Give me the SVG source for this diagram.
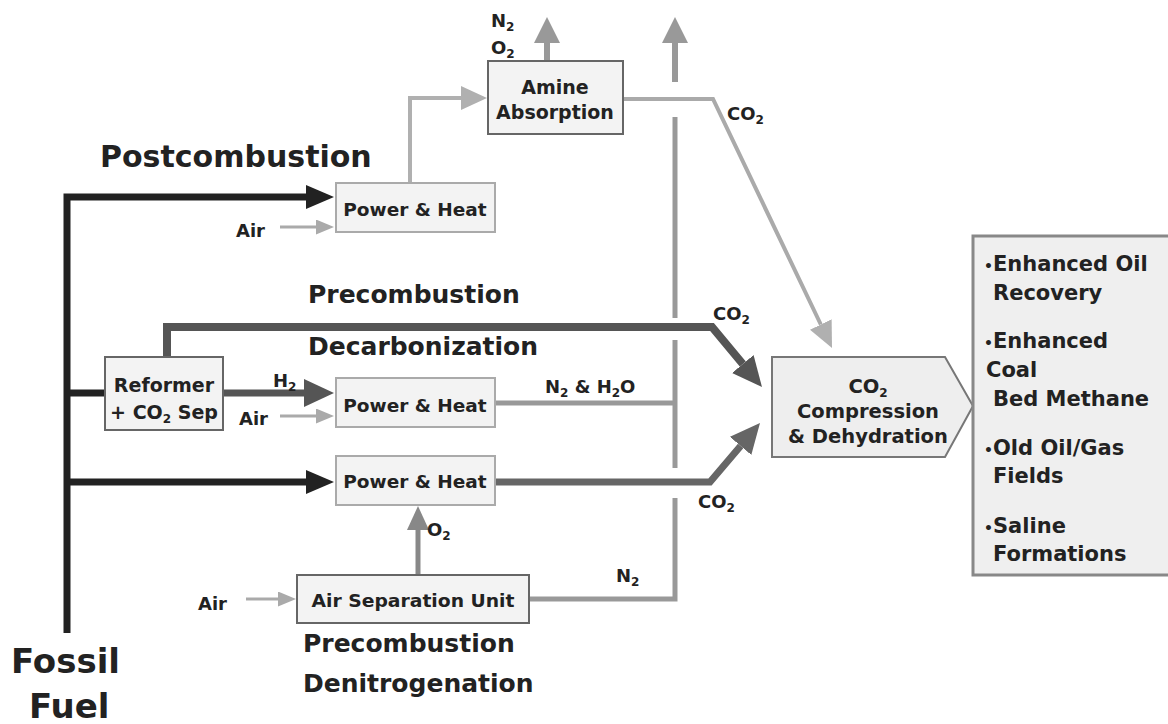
<svg xmlns="http://www.w3.org/2000/svg" width="1168" height="724" viewBox="0 0 1168 724">
<style>
text{font-family:"DejaVu Sans","Liberation Sans",Arial,sans-serif;font-weight:bold;fill:#222}
.title{font-size:25px}
.big{font-size:30px}
.ff{font-size:34px}
.lbl{font-size:18px}
.box{font-size:18.5px;text-anchor:middle}
.sub{font-size:12px}
.ph{fill:#f3f3f3;stroke:#aaa;stroke-width:2}
.dk{fill:#f3f3f3;stroke:#666;stroke-width:2}
.ln{fill:none;stroke-linejoin:miter}
</style>
<defs>
<marker id="mDark" markerUnits="userSpaceOnUse" markerWidth="28" markerHeight="24" refX="0" refY="12" orient="auto"><path d="M0,0 L28,12 L0,24 Z" fill="#222"/></marker>
<marker id="mMid" markerUnits="userSpaceOnUse" markerWidth="30" markerHeight="28" refX="0" refY="14" orient="auto"><path d="M0,0 L30,14 L0,28 Z" fill="#555"/></marker>
<marker id="mMid2" markerUnits="userSpaceOnUse" markerWidth="30" markerHeight="28" refX="0" refY="14" orient="auto"><path d="M0,0 L30,14 L0,28 Z" fill="#666"/></marker>
<marker id="mAir" markerUnits="userSpaceOnUse" markerWidth="18" markerHeight="15" refX="0" refY="7.5" orient="auto"><path d="M0,0 L18,7.5 L0,15 Z" fill="#aaa"/></marker>
<marker id="mLight" markerUnits="userSpaceOnUse" markerWidth="26" markerHeight="24" refX="0" refY="12" orient="auto"><path d="M0,0 L26,12 L0,24 Z" fill="#b0b0b0"/></marker>
<marker id="mGray" markerUnits="userSpaceOnUse" markerWidth="26" markerHeight="26" refX="0" refY="13" orient="auto"><path d="M0,0 L26,13 L0,26 Z" fill="#999"/></marker>
<marker id="mO2" markerUnits="userSpaceOnUse" markerWidth="24" markerHeight="22" refX="0" refY="11" orient="auto"><path d="M0,0 L24,11 L0,22 Z" fill="#888"/></marker>
</defs>

<g id="connectors">
<path class="ln" d="M67,633 V197 H306" stroke="#222" stroke-width="7" marker-end="url(#mDark)"/>
<path class="ln" d="M67,393 H105" stroke="#222" stroke-width="7"/>
<path class="ln" d="M67,482 H306" stroke="#222" stroke-width="7" marker-end="url(#mDark)"/>
<path class="ln" d="M280,227 H316" stroke="#aaa" stroke-width="3" marker-end="url(#mAir)"/>
<path class="ln" d="M280,416 H316" stroke="#aaa" stroke-width="3" marker-end="url(#mAir)"/>
<path class="ln" d="M246,599 H278" stroke="#aaa" stroke-width="3" marker-end="url(#mAir)"/>
<path class="ln" d="M410,183 V98 H461" stroke="#b0b0b0" stroke-width="4" marker-end="url(#mLight)"/>
<path class="ln" d="M547,61 V43" stroke="#999" stroke-width="6" marker-end="url(#mGray)"/>
<path class="ln" d="M623,99 H713 L820.8,324.5" stroke="#aaa" stroke-width="4" marker-end="url(#mLight)"/>
<path class="ln" d="M529,599 H675 V498" stroke="#999" stroke-width="5"/>
<path class="ln" d="M675,468 V340" stroke="#999" stroke-width="5"/>
<path class="ln" d="M675,318 V117" stroke="#999" stroke-width="5"/>
<path class="ln" d="M675,82 V43" stroke="#999" stroke-width="6" marker-end="url(#mGray)"/>
<path class="ln" d="M495,403 H675" stroke="#999" stroke-width="5"/>
<path class="ln" d="M167,357 V327 H712 L742.8,364" stroke="#555" stroke-width="8" marker-end="url(#mMid)"/>
<path class="ln" d="M223,393 H304" stroke="#555" stroke-width="7" marker-end="url(#mMid)"/>
<path class="ln" d="M495,482 H710 L740.6,445.9" stroke="#666" stroke-width="7" marker-end="url(#mMid2)"/>
<path class="ln" d="M418,575 V530" stroke="#888" stroke-width="5" marker-end="url(#mO2)"/>
</g>

<g id="labels">
<text class="big" x="100" y="167">Postcombustion</text>
<text class="title" x="308" y="303">Precombustion</text>
<text class="title" x="308" y="355">Decarbonization</text>
<text class="title" x="303" y="652">Precombustion</text>
<text class="title" x="303" y="692">Denitrogenation</text>
<text class="ff" x="11" y="673">Fossil</text>
<text class="ff" x="29" y="718">Fuel</text>
<text class="lbl" x="236" y="237">Air</text>
<text class="lbl" x="239" y="425">Air</text>
<text class="lbl" x="198" y="610">Air</text>
<text class="lbl" x="491" y="27">N<tspan class="sub" dy="4">2</tspan></text>
<text class="lbl" x="491" y="54">O<tspan class="sub" dy="4">2</tspan></text>
<text class="lbl" x="727" y="120">CO<tspan class="sub" dy="4">2</tspan></text>
<text class="lbl" x="713" y="320">CO<tspan class="sub" dy="4">2</tspan></text>
<text class="lbl" x="698" y="508">CO<tspan class="sub" dy="4">2</tspan></text>
<text class="lbl" x="273" y="387">H<tspan class="sub" dy="4">2</tspan></text>
<text class="lbl" x="545" y="393">N<tspan class="sub" dy="4">2</tspan><tspan dy="-4"> &amp; H</tspan><tspan class="sub" dy="4">2</tspan><tspan dy="-4">O</tspan></text>
<text class="lbl" x="427" y="536">O<tspan class="sub" dy="4">2</tspan></text>
<text class="lbl" x="616" y="582">N<tspan class="sub" dy="4">2</tspan></text>
</g>

<g id="pc-power-heat">
<rect class="ph" x="336" y="183" width="159" height="49"/>
<text class="box" x="415" y="216">Power &amp; Heat</text>
</g>
<g id="amine-absorption">
<rect class="dk" x="488" y="61" width="135" height="73" stroke="#555"/>
<text class="box" x="555" y="94" style="font-size:19px">Amine</text>
<text class="box" x="555" y="119" style="font-size:19px">Absorption</text>
</g>
<g id="reformer">
<rect class="dk" x="105" y="357" width="118" height="73"/>
<text class="box" x="164" y="392" style="font-size:19px">Reformer</text>
<text class="box" x="164" y="419" style="font-size:19px">+ CO<tspan class="sub" dy="4">2</tspan><tspan dy="-4"> Sep</tspan></text>
</g>
<g id="pre-power-heat">
<rect class="ph" x="336" y="378" width="159" height="49"/>
<text class="box" x="415" y="412">Power &amp; Heat</text>
</g>
<g id="oxy-power-heat">
<rect class="ph" x="336" y="456" width="159" height="49"/>
<text class="box" x="415" y="488">Power &amp; Heat</text>
</g>
<g id="air-separation">
<rect class="dk" x="297" y="575" width="232" height="48"/>
<text class="box" x="413" y="607" style="font-size:18.5px" textLength="203" lengthAdjust="spacingAndGlyphs">Air Separation Unit</text>
</g>
<g id="compression">
<polygon points="772,357 945,357 973,406 945,457 772,457" fill="#eeeeee" stroke="#777" stroke-width="2"/>
<text class="box" x="868" y="393" style="font-size:19.5px">CO<tspan class="sub" dy="4">2</tspan></text>
<text class="box" x="868" y="418" style="font-size:19.5px">Compression</text>
<text class="box" x="868" y="443" style="font-size:19.5px">&amp; Dehydration</text>
</g>
<g id="storage">
<rect x="973" y="236" width="210" height="339" fill="#efefef" stroke="#888" stroke-width="3"/>
<g style="font-size:21px">
<text x="984" y="271"><tspan style="font-size:14px">•</tspan><tspan x="993">Enhanced Oil</tspan></text>
<text x="993" y="300">Recovery</text>
<text x="984" y="348"><tspan style="font-size:14px">•</tspan><tspan x="993">Enhanced</tspan></text>
<text x="986" y="377">Coal</text>
<text x="993" y="406">Bed Methane</text>
<text x="984" y="455"><tspan style="font-size:14px">•</tspan><tspan x="993">Old Oil/Gas</tspan></text>
<text x="993" y="483">Fields</text>
<text x="984" y="533"><tspan style="font-size:14px">•</tspan><tspan x="993">Saline</tspan></text>
<text x="993" y="561">Formations</text>
</g>
</g>
</svg>
